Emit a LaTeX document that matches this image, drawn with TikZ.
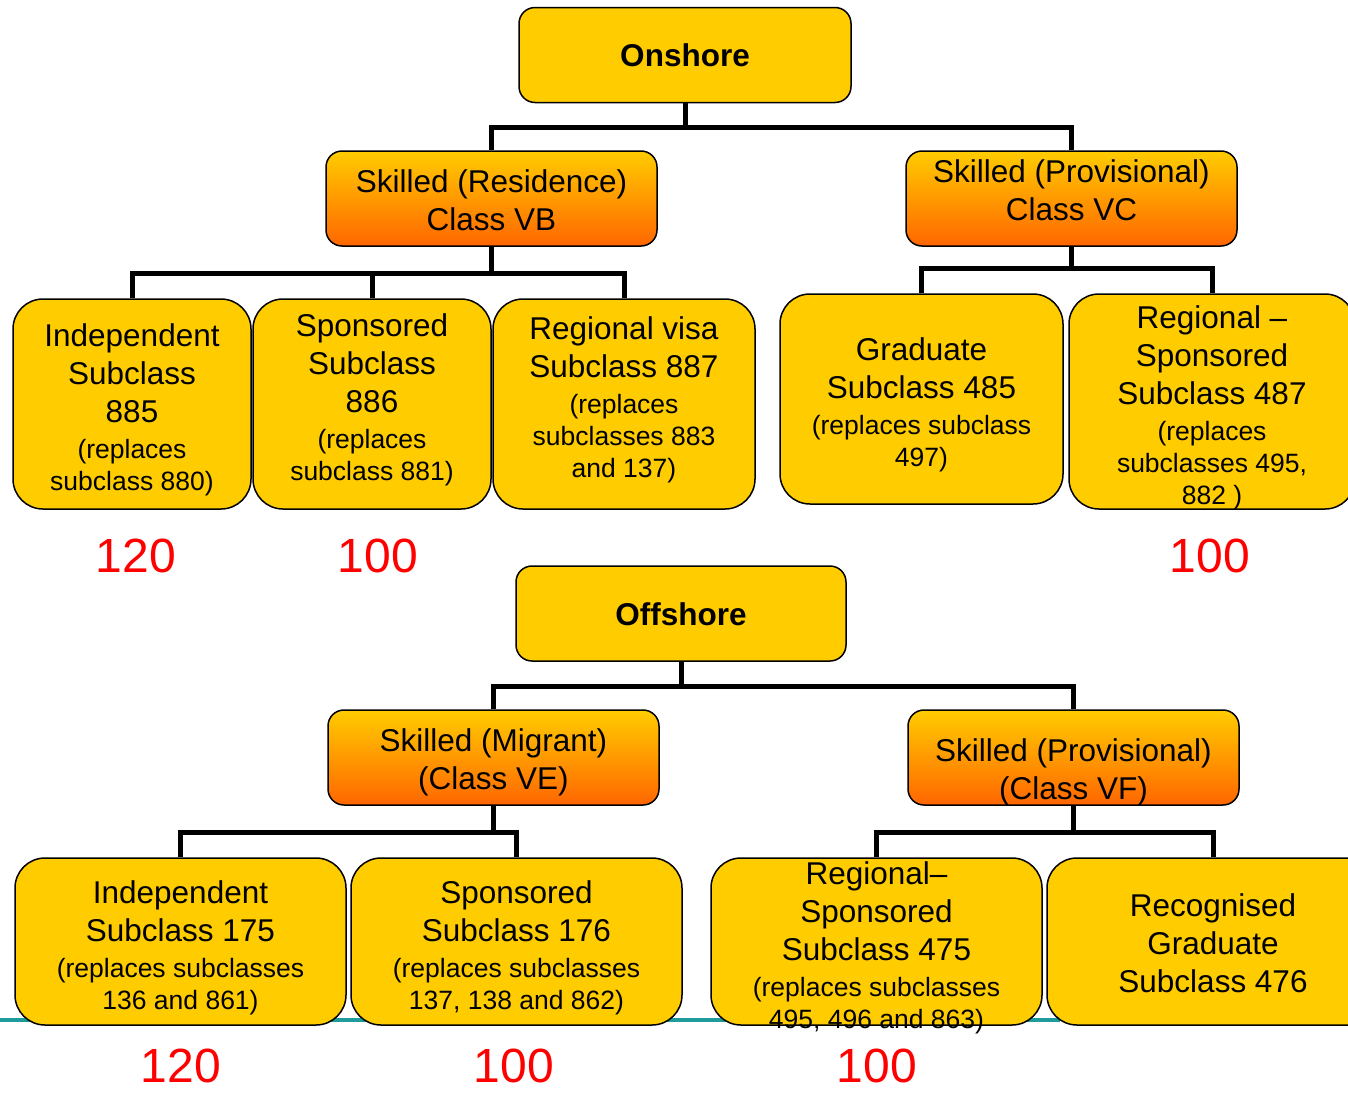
\documentclass[tikz,border=0pt]{standalone}
\usepackage{fontspec}
\setmainfont{Liberation Sans}
\definecolor{gold}{HTML}{FFCC00}
\definecolor{deeporange}{HTML}{FF6600}
\definecolor{sealine}{HTML}{1E9C9C}
\newcommand\sm[1]{{\fontsize{26.5}{32}\selectfont #1}}

\begin{document}
\begin{tikzpicture}[x=1pt,y=-1pt,
	box/.style={draw=black,line width=1.5pt,rounded corners=16pt,fill=gold},
	leaf/.style={box,rounded corners=30pt},
	cls/.style={box,top color=gold,bottom color=deeporange},
	txt/.style={align=center,inner sep=0pt,font=\fontsize{31.5}{38}\selectfont},
	link/.style={line width=5pt},
	num/.style={text=red,font=\fontsize{48}{48}\selectfont}]
	\useasboundingbox (0,0) rectangle (1348,1092);
	\clip (0,0) rectangle (1348,1092);
	\draw[line width=4pt,sealine] (0,1020) -- (1060,1020);
	% onshore
	\node[box,minimum width=332,minimum height=95,
		label={[txt]center:\textbf{Onshore}}] (onshore) at (685,55) {};
	\node[cls,minimum width=331,minimum height=95,
		label={[txt,yshift=-2pt]center:{Skilled (Residence)\\Class VB}}] (vb) at (491.5,198.5) {};
	\node[cls,minimum width=331,minimum height=95,
		label={[txt,yshift=8pt]center:{Skilled (Provisional)\\Class VC}}] (vc) at (1071.5,198.5) {};
	\node[leaf,minimum width=238,minimum height=210,
		label={[txt,yshift=-6pt]center:{Independent\\Subclass\\885\\[-2pt]\sm{(replaces}\\[-6pt]\sm{subclass 880)}}}] (ind885) at (132,404) {};
	\node[leaf,minimum width=238,minimum height=210,
		label={[txt,yshift=4pt]center:{Sponsored\\Subclass\\886\\[-2pt]\sm{(replaces}\\[-6pt]\sm{subclass 881)}}}] (sp886) at (372,404) {};
	\node[leaf,minimum width=262,minimum height=210,
		label={[txt,yshift=4pt]center:{Regional visa\\Subclass 887\\[-2pt]\sm{(replaces}\\[-6pt]\sm{subclasses 883}\\[-6pt]\sm{and 137)}}}] (rv887) at (624,404) {};
	\node[leaf,minimum width=283,minimum height=210,
		label={[txt,yshift=-6pt]center:{Graduate\\Subclass 485\\[-2pt]\sm{(replaces subclass}\\[-6pt]\sm{497)}}}] (grad485) at (921.5,399) {};
	\node[leaf,minimum width=286,minimum height=215,
		label={[txt,yshift=-6pt]center:{Regional --\\Sponsored\\Subclass 487\\[-2pt]\sm{(replaces}\\[-6pt]\sm{subclasses 495,}\\[-6pt]\sm{882 )}}}] (rs487) at (1212,401.5) {};
	\node[num] (n885) at (136,556) {120};
	\node[num] (n886) at (378,556) {100};
	\node[num] (n487) at (1210,556) {100};
	% offshore
	\node[box,minimum width=330,minimum height=95,
		label={[txt,yshift=-1pt]center:\textbf{Offshore}}] (offshore) at (681,613.5) {};
	\node[cls,minimum width=331,minimum height=95,
		label={[txt,yshift=-5pt]center:{Skilled (Migrant)\\(Class VE)}}] (ve) at (493.5,757.5) {};
	\node[cls,minimum width=331,minimum height=95,
		label={[txt,yshift=-15pt]center:{Skilled (Provisional)\\(Class VF)}}] (vf) at (1073.5,757.5) {};
	\node[leaf,minimum width=331,minimum height=167,
		label={[txt,yshift=-6.5pt]center:{Independent\\Subclass 175\\[-2pt]\sm{(replaces subclasses}\\[-6pt]\sm{136 and 861)}}}] (ind175) at (180.5,941.5) {};
	\node[leaf,minimum width=331,minimum height=167,
		label={[txt,yshift=-6.5pt]center:{Sponsored\\Subclass 176\\[-2pt]\sm{(replaces subclasses}\\[-6pt]\sm{137, 138 and 862)}}}] (sp176) at (516.5,941.5) {};
	\node[leaf,minimum width=331,minimum height=167,
		label={[txt,yshift=-6.5pt]center:{Regional--\\Sponsored\\Subclass 475\\[-2pt]\sm{(replaces subclasses}\\[-6pt]\sm{495, 496 and 863)}}}] (rs475) at (876.5,941.5) {};
	\node[leaf,minimum width=332,minimum height=167,
		label={[txt,yshift=-2pt]center:{Recognised\\Graduate\\Subclass 476}}] (rg476) at (1213,941.5) {};
	\node[num] (n175) at (181,1066) {120};
	\node[num] (n176) at (514,1066) {100};
	\node[num] (n475) at (877,1066) {100};
	% connectors
	\foreach \kid in {vb,vc}
		\draw[link] (onshore.south) -- ++(0,24) -| (\kid.north);
	\foreach \kid in {ind885,sp886,rv887}
		\draw[link] (vb.south) -- ++(0,27) -| (\kid.north);
	\foreach \kid in {grad485,rs487}
		\draw[link] (vc.south) -- ++(0,22) -| (\kid.north);
	\foreach \kid in {ve,vf}
		\draw[link] (offshore.south) -- ++(0,25) -| (\kid.north);
	\foreach \kid in {ind175,sp176}
		\draw[link] (ve.south) -- ++(0,27) -| (\kid.north);
	\foreach \kid in {rs475,rg476}
		\draw[link] (vf.south) -- ++(0,27) -| (\kid.north);
\end{tikzpicture}
\end{document}
